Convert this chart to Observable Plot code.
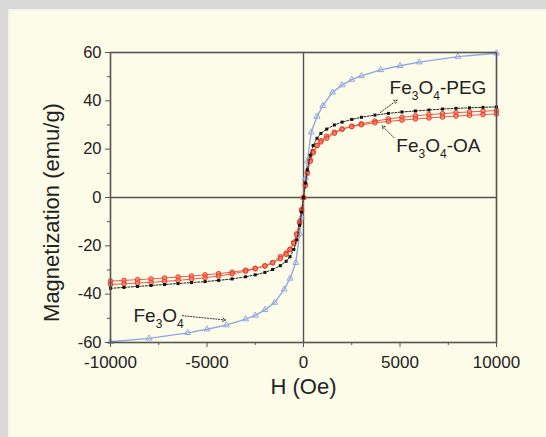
<!DOCTYPE html>
<html>
<head>
<meta charset="utf-8">
<script src="https://cdn.jsdelivr.net/npm/d3@7"></script>
<script src="https://cdn.jsdelivr.net/npm/@observablehq/plot@0.6"></script>
<style>
  html, body { margin: 0; padding: 0; background: #fdfce9; }
  #wrap { position: relative; width: 546px; height: 437px; background: #fdfce9; overflow: hidden; }
  #wrap::before { content: ""; position: absolute; left: 0; top: 0; width: 546px; height: 9px; background: #d9d9d7; }
  #wrap::after { content: ""; position: absolute; left: 0; top: 0; width: 8px; height: 437px; background: #d9d9d7; }
  #edge { position: absolute; left: 8px; top: 9px; width: 538px; height: 428px; border-top: 2px solid #f4f4ee; border-left: 2px solid #f4f4ee; box-sizing: border-box; }
  #chart { position: absolute; left: 0; top: 0; }
  svg text { font-family: "Liberation Sans", Arial, sans-serif; }
</style>
</head>
<body>
<div id="wrap"><div id="edge"></div><div id="chart"></div></div>
<script>
// ---- data ----
const H_FE = [-10000,-8000,-6000,-5000,-4000,-3000,-2500,-2000,-1500,-1000,-700,-400,-200,-100,0,100,200,400,700,1000,1500,2000,2500,3000,4000,5000,6000,8000,10000];
const M_FE = [-59.7,-58.3,-56.0,-54.5,-52.8,-50.3,-48.8,-46.5,-43.5,-38.0,-33.5,-27.0,-15.0,-8.0,0,8.0,15.0,27.0,33.5,38.0,43.5,46.5,48.8,50.3,52.8,54.5,56.0,58.3,59.7];

const H_PEG = [-10000,-9300,-8600,-7900,-7200,-6500,-5800,-5100,-4400,-3700,-3000,-2500,-2000,-1600,-1200,-900,-700,-500,-350,-200,-100,0,100,200,350,500,700,900,1200,1600,2000,2500,3000,3700,4400,5100,5800,6500,7200,7900,8600,9300,10000];
const M_PEG = [-37.6,-37.2,-36.8,-36.4,-36.0,-35.6,-35.2,-34.8,-34.3,-33.7,-32.8,-32.0,-31.0,-29.8,-28.2,-26.4,-24.5,-21.5,-17.5,-11.5,-6.0,0,6.0,11.5,17.5,21.5,24.5,26.5,28.3,30.0,31.2,32.3,33.2,34.1,34.8,35.4,35.8,36.2,36.6,36.9,37.1,37.3,37.5];

const H_OA = [-10000,-9300,-8600,-7900,-7200,-6500,-5800,-5100,-4400,-3700,-3000,-2500,-2000,-1600,-1200,-900,-700,-500,-350,-200,-100,0,100,200,350,500,700,900,1200,1600,2000,2500,3000,3700,4400,5100,5800,6500,7200,7900,8600,9300,10000];
const M_OA_DOWN = [-34.6,-34.3,-34.0,-33.7,-33.3,-32.9,-32.5,-32.0,-31.5,-30.9,-30.1,-29.3,-28.3,-27.0,-24.5,-23.0,-21.5,-18.5,-15.0,-10.0,-5.0,0,5.5,10.5,15.5,19.0,21.5,23.5,25.3,27.0,28.3,29.5,30.5,31.6,32.5,33.2,33.8,34.3,34.7,35.1,35.4,35.7,36.0];
const M_OA_UP = [-36.0,-35.7,-35.4,-35.1,-34.7,-34.3,-33.8,-33.2,-32.5,-31.6,-30.5,-29.5,-28.3,-27.0,-25.3,-23.5,-21.5,-19.0,-15.5,-10.5,-5.5,0,5.0,10.0,15.0,18.5,21.5,23.0,24.5,26.6,28.3,29.3,30.1,30.9,31.5,32.0,32.5,32.9,33.3,33.7,34.0,34.3,34.6];

const X_TICKS = [-10000,-5000,0,5000,10000];
const X_MINOR = [-7500,-2500,2500,7500];
const Y_TICKS = [-60,-40,-20,0,20,40,60];
const Y_MINOR = [-50,-30,-10,10,30,50];

const LABELS = ["Fe3O4-PEG","Fe3O4-OA","Fe3O4"];
const LABEL_H = [4460, 4810, -8810];
const LABEL_M = [45.5, 21.4, -48.9];

const ARROW_H1 = [3990, 4680, -6280];
const ARROW_M1 = [35.2, 24.8, -48.9];
const ARROW_H2 = [4850, 4070, -4040];
const ARROW_M2 = [40.3, 29.7, -50.7];

const X_TITLE = "H (Oe)";
const Y_TITLE = "Magnetization (emu/g)";

// ---- tables built from the arrays ----
const fe = H_FE.map((h, i) => ({H: h, M: M_FE[i]}));
const peg = H_PEG.map((h, i) => ({H: h, M: M_PEG[i]}));
const oaDown = H_OA.map((h, i) => ({H: h, M: M_OA_DOWN[i]}));
const oaUp = H_OA.map((h, i) => ({H: h, M: M_OA_UP[i]}));
const oaAll = oaDown.concat(oaUp);
const labels = LABELS.map((t, i) => ({t, H: LABEL_H[i], M: LABEL_M[i]}));
const arrows = ARROW_H1.map((h, i) => ({x1: h, y1: ARROW_M1[i], x2: ARROW_H2[i], y2: ARROW_M2[i]}));

const AX = "#555555";
const fmt = d => String(d);

const plot = Plot.plot({
  width: 546,
  height: 437,
  marginLeft: 110,
  marginRight: 50,
  marginTop: 52,
  marginBottom: 95,
  style: {background: "transparent", overflow: "visible"},
  x: {domain: [-10000, 10000]},
  y: {domain: [-60, 60]},
  marks: [
    Plot.ruleX([0], {stroke: AX, strokeWidth: 1.4}),
    Plot.ruleY([0], {stroke: AX, strokeWidth: 1.4}),
    // Fe3O4 (blue)
    Plot.line(fe, {x: "H", y: "M", stroke: "#8fa6e2", strokeWidth: 1.4}),
    Plot.dot(fe, {x: "H", y: "M", symbol: "triangle", r: 2.2, stroke: "#93a8de", fill: "none", strokeWidth: 1}),
    // Fe3O4-OA (red)
    Plot.line(oaDown, {x: "H", y: "M", stroke: "#ee5a44", strokeWidth: 1}),
    Plot.line(oaUp, {x: "H", y: "M", stroke: "#ee5a44", strokeWidth: 1}),
    Plot.dot(oaAll, {x: "H", y: "M", r: 2.3, stroke: "#e8321e", fill: "#f47a66", strokeWidth: 1, fillOpacity: 0.7, strokeOpacity: 0.9}),
    // Fe3O4-PEG (black)
    Plot.line(peg, {x: "H", y: "M", stroke: "#222", strokeWidth: 1, strokeDasharray: "2,1.5"}),
    Plot.dot(peg, {x: "H", y: "M", symbol: "square", r: 1.7, fill: "#111", stroke: "none"}),
    // annotation arrows
    Plot.arrow(arrows, {x1: "x1", y1: "y1", x2: "x2", y2: "y2", stroke: "#333", strokeWidth: 1, strokeDasharray: "1.2,1.6", headLength: 5, bend: 0}),
    // labels
    Plot.text(labels, {x: "H", y: "M", text: "t", textAnchor: "start", lineAnchor: "middle", fontSize: 19, fill: "#222"}),
    // frame and axes
    Plot.frame({stroke: AX, strokeWidth: 1.6}),
    Plot.axisX({ticks: X_TICKS, tickSize: 5, tickPadding: 8, fontSize: 17, label: null, stroke: AX, color: "#222", tickFormat: fmt}),
    Plot.axisX({ticks: X_MINOR, tickSize: 3, tickFormat: () => "", label: null, stroke: AX}),
    Plot.axisY({ticks: Y_TICKS, tickSize: 5, tickPadding: 4, fontSize: 16.5, label: null, stroke: AX, color: "#222", tickFormat: fmt}),
    Plot.axisY({ticks: Y_MINOR, tickSize: 3, tickFormat: () => "", label: null, stroke: AX}),
    Plot.text([X_TITLE], {frameAnchor: "bottom", dy: 44, lineAnchor: "middle", textAnchor: "middle", fontSize: 22, fill: "#222"}),
    Plot.text([Y_TITLE], {frameAnchor: "left", dx: -59, dy: 15, rotate: -90, lineAnchor: "middle", textAnchor: "middle", fontSize: 22, fill: "#222"})
  ]
});

// subscripts for chemical formula labels
plot.querySelectorAll("text").forEach(el => {
  const s = el.textContent;
  if (!s.startsWith("Fe3O4")) return;
  const rest = s.slice(5);
  while (el.firstChild) el.removeChild(el.firstChild);
  const parts = [["Fe", 0, null], ["3", 6, 12], ["O", -6, null], ["4", 6, 12]];
  if (rest) parts.push([rest, -6, null]);
  const ns = "http://www.w3.org/2000/svg";
  for (const [txt, dy, fs] of parts) {
    const t = document.createElementNS(ns, "tspan");
    t.textContent = txt;
    if (dy) t.setAttribute("dy", dy);
    if (fs) t.setAttribute("font-size", fs);
    el.appendChild(t);
  }
});

document.getElementById("chart").appendChild(plot);
</script>
</body>
</html>
